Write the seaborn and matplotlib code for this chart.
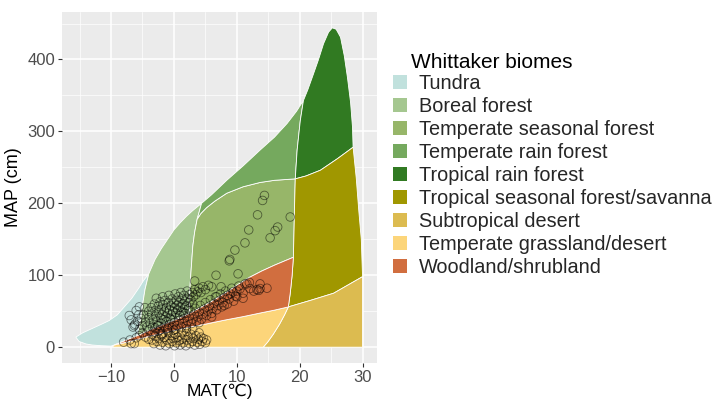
import matplotlib
matplotlib.use("Agg")
import matplotlib.pyplot as plt
from matplotlib.patches import Patch, Polygon
from matplotlib.ticker import MultipleLocator
import seaborn as sns
import pandas as pd

# ---------------- data ----------------
biome_names = ["Tundra", "Boreal forest", "Temperate seasonal forest",
               "Temperate rain forest", "Tropical rain forest",
               "Tropical seasonal forest/savanna", "Subtropical desert",
               "Temperate grassland/desert", "Woodland/shrubland"]
biome_colors = ["#C1E1DD", "#A5C790", "#97B669", "#75A95E", "#317A22",
                "#A09700", "#DCBB50", "#FCD57A", "#D16E3F"]

tundra_T = [-15.6, -14.5, -13, -11.5, -10.3, -9, -7.8, -6.7, -5.6, -4.8, -4.0,
            -4.6, -5.0, -5.2, -5.5, -5.8, -7.5, -9.5, -10, -11.5, -13, -14, -15.1]
tundra_P = [14, 20, 26, 32, 37, 45, 57, 68, 82, 93, 102,
            80, 58, 45, 30, 16, 10, 3, 1.5, 2, 3, 4.5, 8]

boreal_T = [-4.0, -3, -2, -1, 0, 1, 2, 3, 4.4, 3.7, 3.3, 3.0, 2.8, 2.6, 2.5, 2.45,
            0.5, -1.5, -3.5, -5.5, -5.8, -5.5, -5.2, -5.0, -4.6]
boreal_P = [102, 122, 137, 150, 163, 173, 182, 190, 200, 178, 160, 140, 115, 90, 70, 46.8,
            39, 32, 25, 17, 16, 30, 45, 58, 80]

tsf_T = [3.7, 4.3, 5.2, 6.5, 8.4, 11, 13.7, 16, 19.3, 19.2, 19.1, 19.0,
         16, 14, 12, 10, 8.5, 7, 5.5, 4, 2.45, 2.5, 2.6, 2.8, 3.0, 3.3]
tsf_P = [178, 186, 194, 203, 214, 223, 229, 232, 234, 200, 160, 125,
         114, 106, 97, 86, 77, 69, 61, 54, 46.8, 70, 90, 115, 140, 160]

trf_T = [4.4, 6, 8.4, 11, 13.7, 16, 18, 19.5, 20.6, 20.1, 19.6, 19.3,
         16, 13.7, 11, 8.4, 6.5, 5.2, 4.3, 3.7]
trf_P = [200, 212, 232, 252, 274, 292, 311, 328, 343, 315, 274, 234,
         232, 229, 223, 214, 203, 194, 186, 178]

troprf_T = [19.3, 21, 23.3, 26, 28.5, 28.4, 28.1, 27.6, 27.1, 26.5, 25.8, 25.2,
            24.6, 23.8, 23, 22.2, 21.3, 20.6, 20.1, 19.6]
troprf_P = [234, 238, 246, 262, 278, 306, 340, 375, 405, 431, 442, 444,
            438, 422, 400, 380, 358, 343, 315, 274]

savanna_T = [18.2, 21.7, 25.4, 28, 30, 29.8, 29.4, 29, 28.5, 26, 23.3, 21, 19.3,
             19.2, 19.1, 19.0, 18.8, 18.5]
savanna_P = [56, 65, 75, 88, 98, 150, 190, 235, 278, 262, 246, 238, 234,
             200, 160, 125, 100, 75]

subdes_T = [14.2, 30, 30, 28, 25.4, 21.7, 18.2, 17.6, 16.8, 15.8, 14.9]
subdes_P = [0, 0, 98, 88, 75, 65, 56, 45, 32, 18, 7]

grass_T = [-9.8, -9.5, -7, -4, -1, 2, 5, 8, 11, 14, 16, 18.2,
           17.6, 16.8, 15.8, 14.9, 14.2]
grass_P = [0, 3, 8, 15, 21, 27, 32, 37.5, 42.5, 48, 51.5, 56,
           45, 32, 18, 7, 0]

wood_T = [-9.5, -7.5, -5.8, -5.5, -3.5, -1.5, 0.5, 2.45, 4, 5.5, 7, 8.5, 10, 12, 14, 16, 19,
          18.8, 18.5, 18.2, 16, 14, 11, 8, 5, 2, -1, -4, -7]
wood_P = [3, 10, 16, 17, 25, 32, 39, 46.8, 54, 61, 69, 77, 86, 97, 106, 114, 125,
          100, 75, 56, 51.5, 48, 42.5, 37.5, 32, 27, 21, 15, 8]

biome_T = [tundra_T, boreal_T, tsf_T, trf_T, troprf_T, savanna_T, subdes_T, grass_T, wood_T]
biome_P = [tundra_P, boreal_P, tsf_P, trf_P, troprf_P, savanna_P, subdes_P, grass_P, wood_P]

# observed sites (MAT, MAP)
green_T = [-6.5, -6.2, -5.8, -5.5, -5.2, -5, -4.8, -4.5, -4.3, -4, -4, -3.8, -3.6, -3.5, -3.3,
           -3.1, -3, -2.9, -2.8, -2.7, -2.5, -2.4, -2.2, -2.1, -2, -1.9, -1.8, -1.7, -1.5, -1.4,
           -1.3, -1.2, -1, -0.9, -0.8, -0.7, -0.5, -0.4, -0.3, -0.2, 0, 0.1, 0.2, 0.3, 0.4,
           0.5, 0.6, 0.7, 0.8, 1, 1.1, 1.2, 1.3, 1.4, 1.6, 1.7, 1.8, 2, 2.1, 2.2, 2.4, 2.5,
           2.7, 2.9, 3.1, 3.3, 3.5, 3.8, 4, 4.3, 4.6, 5, 5.5, 6, -1.6, -2.6, -3.4, 0.9, -0.6,
           1.5, 2.3, 3, -4.6, -5.6, -6.8, -7.1, -6, -5.5, -6.3]
green_P = [28, 32, 36, 25, 40, 30, 45, 35, 28, 50, 41, 33, 55, 46, 38,
           60, 51, 43, 68, 35, 57, 48, 63, 40, 53, 45, 70, 59, 50, 65,
           42, 55, 47, 62, 72, 52, 58, 45, 67, 50, 61, 55, 74, 48, 65,
           58, 52, 70, 62, 56, 76, 50, 67, 60, 72, 55, 64, 58, 78, 68, 62, 73,
           66, 76, 70, 80, 73, 77, 82, 76, 84, 80, 86, 84, 38, 30, 28, 44, 40,
           48, 53, 60, 55, 45, 38, 44, 51, 56, 30]

red_T = [-8, -7, -6, -5.5, -5, -4.5, -4, -3.5, -3, -3, -2.5, -2.2, -2, -1.8, -1.5, -1.2, -1,
         -0.8, -0.5, -0.3, 0, 0.2, 0.3, 0.5, 0.8, 1, 1.2, 1.4, 1.6, 1.8, 2, 2.2, 2.4, 2.6,
         2.8, 3, 3.2, 3.4, 3.6, 3.8, 4, 4.2, 4.4, 4.6, 4.8, 5, 5.2, 5.4, 5.6, 5.8, 6, 6.2,
         6.4, 6.6, 6.8, 7, 7.2, 7.4, 7.6, 7.8, 8, 8.2, 8.5, 8.8, 9, 9.2, 9.5, 9.8, 10, 10.3,
         10.5, 11, 11.3, 11.6, 12.1, 12.7, 13.2, 13.5, 13.7, 13.7, 14.8, 8.5, 9.4, 6.8, 7.5,
         10, 11, 12, 8, 6, 4, 2, 0, -2, -4]
red_P = [7, 10, 13, 16, 20, 14, 24, 18, 27, 21, 30, 24, 33, 19, 28, 36, 23,
         31, 38, 27, 34, 41, 25, 30, 37, 44, 28, 33, 40, 47, 30, 36, 43, 51,
         33, 39, 46, 54, 36, 42, 49, 58, 39, 46, 53, 62, 44, 50, 57, 66, 47, 54,
         61, 70, 52, 58, 65, 74, 56, 62, 69, 78, 60, 67, 74, 82, 64, 71, 78, 85,
         81, 75, 88, 88, 81.5, 78, 80, 79, 81.5, 88, 82, 72, 77, 70, 84,
         70, 68, 90, 58, 42, 34, 26, 20, 16, 11]

yellow_T = [-6.8, -6.3, -3.5, -3.2, -3, -2.7, -2.4, -2.2, -2, -1.8, -1.5, -1.3, -1.1, -0.9,
            -0.7, -0.5, -0.3, -0.1, 0.1, 0.2, 0.4, 0.6, 0.8, 1, 1.2, 1.3, 1.5, 1.7, 1.9, 2.1,
            2.3, 2.5, 2.7, 2.9, 3.1, 3.3, 3.5, 3.7, 3.9, 4.1, 4.3, 4.5, 4.7, 5, 5.2, 2, 0,
            -1, -2.5, 4, 3]
yellow_P = [5, 5, 10, 5, 15, 8, 12, 3, 18, 7, 14, 2, 10, 20,
            5, 16, 8, 12, 2, 18, 6, 14, 9, 3, 20, 11, 6, 16, 2, 10,
            14, 5, 18, 8, 12, 3, 16, 7, 11, 4, 14, 8, 12, 6, 10, 22, 24,
            26, 22, 20, 25]

sparse_T = [14.4, 14.1, 13.3, 18.5, 16.5, 16.1, 11.9, 15.3, 11.3, 9.7, 8.9, 8.8, 6.7, 10.2, 3.3]
sparse_P = [211, 204, 184, 181, 167, 162, 163, 152, 145, 135, 122, 120, 100, 102, 92]

x_ticks = [-10, 0, 10, 20, 30]
y_ticks = [0, 100, 200, 300, 400]

# ---------------- plot ----------------
sns.set_theme(style="darkgrid")
plt.rcParams["font.family"] = ["Liberation Sans", "DejaVu Sans"]

fig = plt.figure(figsize=(7.14, 4.0), dpi=100)
ax = fig.add_axes([62 / 714, 37 / 400, 315 / 714, 351 / 400])
ax.set_facecolor("#EBEBEB")

for T, P, c in zip(biome_T, biome_P, biome_colors):
    ax.add_patch(Polygon(list(zip(T, P)), closed=True, facecolor=c,
                         edgecolor="white", linewidth=0.6, zorder=2))

pts = pd.DataFrame({
    "MAT": green_T + red_T + yellow_T + sparse_T,
    "MAP": green_P + red_P + yellow_P + sparse_P,
})
sns.scatterplot(data=pts, x="MAT", y="MAP", ax=ax, marker="o", s=38,
                facecolor="none", edgecolor="black", linewidth=0.6,
                alpha=0.5, zorder=3, legend=False)

ax.set_xlim(-17.8, 32.3)
ax.set_ylim(-22, 466)
ax.set_xticks(x_ticks)
ax.set_yticks(y_ticks)
ax.xaxis.set_minor_locator(MultipleLocator(5))
ax.yaxis.set_minor_locator(MultipleLocator(50))
ax.grid(which="major", color="white", linewidth=1.1, zorder=0)
ax.grid(which="minor", color="white", linewidth=0.5, zorder=0)
ax.set_axisbelow(True)
for s in ax.spines.values():
    s.set_visible(False)
ax.tick_params(axis="both", which="major", length=3, width=0.8, color="#333333",
               labelsize=12, labelcolor="#4D4D4D", pad=2,
               bottom=True, left=True)
ax.tick_params(axis="both", which="minor", length=0)
ax.set_xticklabels([str(v).replace("-", "\u2212") for v in x_ticks])
ax.set_yticklabels([str(v) for v in y_ticks])

ax.set_xlabel("MAT(\u2103)", fontsize=12.5, color="black", labelpad=-1)
ax.set_ylabel("MAP (cm)", fontsize=13, color="black", labelpad=4)

handles = [Patch(facecolor=c, edgecolor="none") for c in biome_colors]
leg = fig.legend(handles, biome_names,
                 loc="upper left", bbox_to_anchor=(393 / 714, 1 - 74 / 400),
                 frameon=False, fontsize=14.3,
                 handlelength=0.7, handleheight=0.7, handletextpad=0.6,
                 labelspacing=0.2, borderaxespad=0, borderpad=0)
fig.text(411 / 714, 1 - 63 / 400, "Whittaker biomes", fontsize=15,
         ha="left", va="center", color="black")

fig.savefig("out.png", dpi=100)
